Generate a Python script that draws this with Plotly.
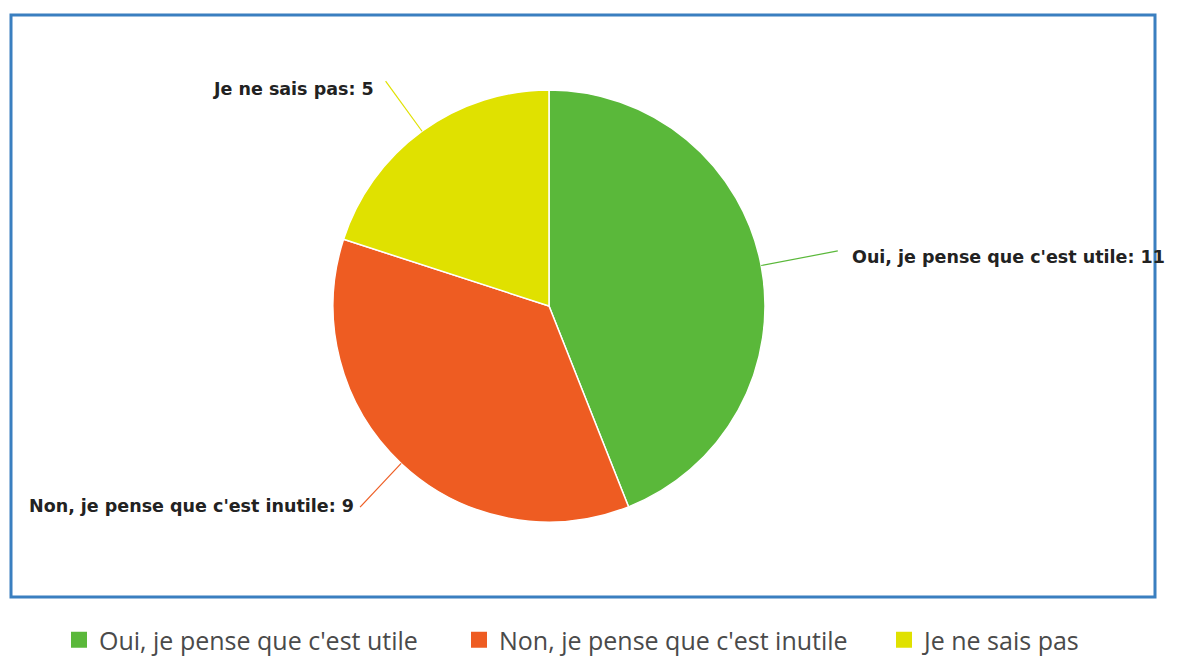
import math
import plotly.graph_objects as go

labels = ["Oui, je pense que c'est utile", "Non, je pense que c'est inutile", "Je ne sais pas"]
values = [11, 9, 5]
colors = ["#5ab83a", "#ee5c22", "#e0e100"]

OFF = 8                       # browser body margin
W, H = 1177 - 2 * OFF, 660 - OFF
cx, cy, R = 549, 306, 216     # pie centre / radius in page px (layout)
legend_x = [59, 459, 884]     # legend entry left edges, page px (layout)
legend_y = 640
label_ext = [78, 60, 62]      # leader-line length beyond the rim (style)
label_dx = [12, -4, -10]      # text offset from leader end (style)
label_dy = [6, -1, 8]

def px(x):
    return (x - OFF) / W

def py(y):
    return 1 - (y - OFF) / H

fig = go.Figure()
fig.add_trace(go.Pie(
    labels=labels, values=values, sort=False, direction="clockwise", rotation=0,
    marker=dict(colors=colors, line=dict(color="white", width=1.5)),
    textinfo="none", hoverinfo="label+value", showlegend=False,
    domain=dict(x=[px(cx - 300), px(cx + 300)], y=[py(cy + R), py(cy - R)]),
))

legend_names = ["legend", "legend2", "legend3"]
for lab, col, lg in zip(labels, colors, legend_names):
    fig.add_trace(go.Scatter(
        x=[None], y=[None], mode="markers", name=lab, legend=lg,
        marker=dict(symbol="square", size=22, color=col), hoverinfo="skip",
    ))

shapes = [dict(type="rect", xref="paper", yref="paper",
               x0=px(11), x1=px(1155), y0=py(597), y1=py(15),
               line=dict(color="#3a7fc0", width=3), layer="below")]
annotations = []
total = sum(values)
start = 0.0
for i, (lab, val, col) in enumerate(zip(labels, values, colors)):
    ang = start + val / total * 360 / 2
    start += val / total * 360
    s, c = math.sin(math.radians(ang)), math.cos(math.radians(ang))
    x1, y1 = cx + R * s, cy - R * c
    x2, y2 = cx + (R + label_ext[i]) * s, cy - (R + label_ext[i]) * c
    shapes.append(dict(type="line", xref="paper", yref="paper",
                       x0=px(x1), y0=py(y1), x1=px(x2), y1=py(y2),
                       line=dict(color=col, width=1.2)))
    right = s > 0
    annotations.append(dict(
        xref="paper", yref="paper", x=px(x2 + label_dx[i]), y=py(y2 + label_dy[i]),
        text=f"<b>{lab}: {val}</b>", showarrow=False,
        xanchor="left" if right else "right", yanchor="middle",
        font=dict(family="DejaVu Sans, sans-serif", size=17.5, color="#222222"),
    ))

legend_font = dict(family="Open Sans, sans-serif", size=25, color="#4a4a4a")
legends = {}
for lg, lx in zip(legend_names, legend_x):
    legends[lg] = dict(orientation="h", xref="container", yref="container",
                       x=px(lx), xanchor="left", y=py(legend_y), yanchor="middle",
                       font=legend_font, itemwidth=30, bgcolor="rgba(0,0,0,0)")

fig.update_layout(
    width=W, height=H,
    margin=dict(l=0, r=0, t=0, b=0, autoexpand=False),
    paper_bgcolor="white", plot_bgcolor="white",
    xaxis=dict(visible=False), yaxis=dict(visible=False),
    shapes=shapes, annotations=annotations,
    showlegend=True,
    **legends,
)
fig.write_html("out.html")
